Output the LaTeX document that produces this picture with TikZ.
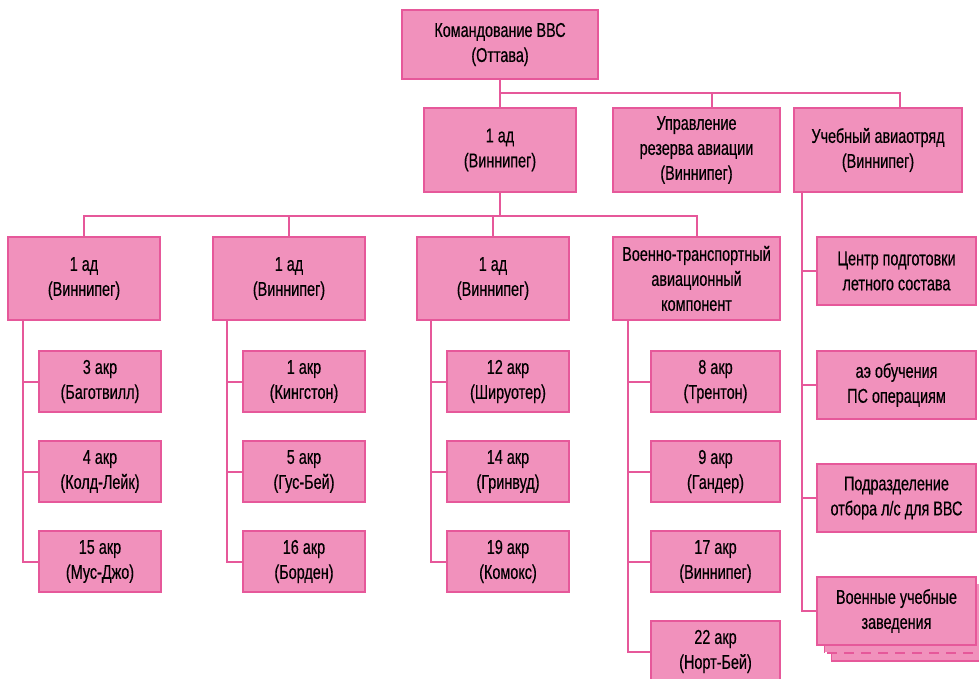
\documentclass[tikz,border=0pt]{standalone}
\usepackage{fontspec}
\setmainfont[FakeStretch=0.72,FakeBold=0.4]{Liberation Sans}
\usepackage{xcolor}
\usetikzlibrary{positioning,calc}

\definecolor{boxfill}{RGB}{241,145,188}
\definecolor{boxline}{RGB}{230,88,154}

\begin{document}
\begin{tikzpicture}[x=1pt, y=-1pt,
  font=\fontsize{20}{25}\selectfont,
  box/.style={draw=boxline, line width=1.5pt, fill=boxfill, align=center, inner sep=2pt},
  unit/.style={box, minimum width=152pt, minimum height=83pt},
  sub/.style={box, minimum width=122pt, minimum height=61pt},
  school/.style={box, minimum width=159pt, minimum height=68pt},
  link/.style={draw=boxline, line width=2pt}]
\useasboundingbox (0,0) rectangle (979,679);

% top levels
\node[box, minimum width=196pt, minimum height=69pt] (vvs) at (500,44.5) {Командование ВВС\\(Оттава)};
\node[unit, minimum height=84pt] (ad) at (500,150) {1 ад\\(Виннипег)};
\node[unit, minimum width=167pt, minimum height=84pt] (rezerv) at (696.5,150) {Управление\\резерва авиации\\(Виннипег)};
\node[unit, minimum width=168pt, minimum height=84pt] (uchotr) at (878,150) {Учебный авиаотряд\\(Виннипег)};

\draw[link] (vvs.south) -- (ad.north);
\draw[link] (vvs.south |- 0,93) -| ([xshift=22pt]uchotr.north);
\draw[link] ([xshift=15.5pt]rezerv.north |- 0,93) -- ([xshift=15.5pt]rezerv.north);

% groups
\node[unit] (adA) at (84,278.5) {1 ад\\(Виннипег)};
\node[unit] (adB) at (289,278.5) {1 ад\\(Виннипег)};
\node[unit] (adC) at (493,278.5) {1 ад\\(Виннипег)};
\node[unit, minimum width=167pt] (vtak) at (696.5,278.5) {Военно-транспортный\\авиационный\\компонент};

\draw[link] (ad.south) -- (ad.south |- 0,216);
\draw[link] (adA.north) -- (adA.north |- 0,216) -| (vtak.north);
\draw[link] (adB.north) -- (adB.north |- 0,216);
\draw[link] (adC.north) -- (adC.north |- 0,216);

% squadrons
\node[sub] (akr3) at (100,381.5) {3 акр\\(Баготвилл)};
\node[sub] (akr4) at (100,471.5) {4 акр\\(Колд-Лейк)};
\node[sub] (akr15) at (100,561.5) {15 акр\\(Мус-Джо)};
\node[sub] (akr1) at (304,381.5) {1 акр\\(Кингстон)};
\node[sub] (akr5) at (304,471.5) {5 акр\\(Гус-Бей)};
\node[sub] (akr16) at (304,561.5) {16 акр\\(Борден)};
\node[sub] (akr12) at (508,381.5) {12 акр\\(Шируотер)};
\node[sub] (akr14) at (508,471.5) {14 акр\\(Гринвуд)};
\node[sub] (akr19) at (508,561.5) {19 акр\\(Комокс)};
\node[sub, minimum width=129pt] (akr8) at (715.5,381.5) {8 акр\\(Трентон)};
\node[sub, minimum width=129pt] (akr9) at (715.5,471.5) {9 акр\\(Гандер)};
\node[sub, minimum width=129pt] (akr17) at (715.5,561.5) {17 акр\\(Виннипег)};
\node[sub, minimum width=129pt] (akr22) at (715.5,651.5) {22 акр\\(Норт-Бей)};

\draw[link] ([xshift=16pt]adA.south west) |- (akr15.west);
\draw[link] ([xshift=16pt]adA.south west |- akr3.west) -- (akr3.west);
\draw[link] ([xshift=16pt]adA.south west |- akr4.west) -- (akr4.west);
\draw[link] ([xshift=15pt]adB.south west) |- (akr16.west);
\draw[link] ([xshift=15pt]adB.south west |- akr1.west) -- (akr1.west);
\draw[link] ([xshift=15pt]adB.south west |- akr5.west) -- (akr5.west);
\draw[link] ([xshift=15pt]adC.south west) |- (akr19.west);
\draw[link] ([xshift=15pt]adC.south west |- akr12.west) -- (akr12.west);
\draw[link] ([xshift=15pt]adC.south west |- akr14.west) -- (akr14.west);
\draw[link] ([xshift=16pt]vtak.south west) |- (akr22.west);
\draw[link] ([xshift=16pt]vtak.south west |- akr8.west) -- (akr8.west);
\draw[link] ([xshift=16pt]vtak.south west |- akr9.west) -- (akr9.west);
\draw[link] ([xshift=16pt]vtak.south west |- akr17.west) -- (akr17.west);

% training
\node[school] (cpls) at (896.5,271) {Центр подготовки\\летного состава};
\node[school] (aeps) at (896.5,385) {аэ обучения\\ПС операциям};
\node[school] (podr) at (896.5,498) {Подразделение\\отбора л/с для ВВС};
\node[school, draw=none] (vuz3) at (911.5,626) {};
\draw[link, line width=1.5pt] (vuz3.north west) rectangle (vuz3.south east);
\node[school, draw=none] (vuz2) at (904.5,618) {};
\draw[link, line width=1.5pt] (vuz2.north west) -- (vuz2.south west);
\draw[link, line width=1.5pt, dash pattern=on 10pt off 7pt] ([xshift=3pt]vuz2.south west) -- (vuz2.south east);
\node[school] (vuz) at (896.5,611) {Военные учебные\\заведения};

\draw[link] ([xshift=9pt]uchotr.south west) |- (vuz.west);
\draw[link] ([xshift=9pt]uchotr.south west |- cpls.west) -- (cpls.west);
\draw[link] ([xshift=9pt]uchotr.south west |- aeps.west) -- (aeps.west);
\draw[link] ([xshift=9pt]uchotr.south west |- podr.west) -- (podr.west);
\end{tikzpicture}
\end{document}
